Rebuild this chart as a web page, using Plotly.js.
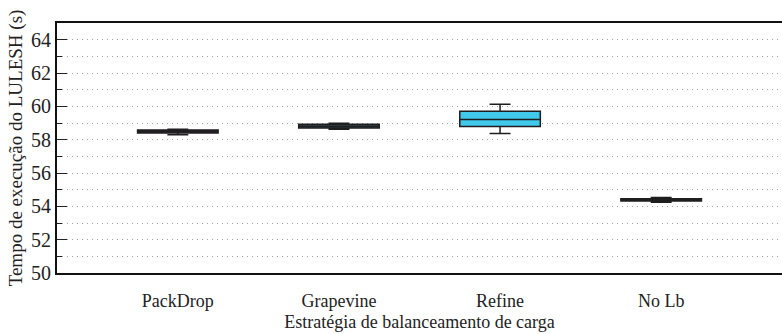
<!DOCTYPE html>
<html>
<head>
<meta charset="utf-8">
<script src="https://cdn.plot.ly/plotly-3.0.1.min.js"></script>
<style>html,body{margin:0;padding:0;background:#fff;}#chart{width:782px;height:334px;}</style>
</head>
<body>
<div id="chart"></div>
<script>
const categories = ["PackDrop", "Grapevine", "Refine", "No Lb"];
const lowerWhisker = [58.30, 58.63, 58.37, 54.24];
const q1Values     = [58.40, 58.70, 58.79, 54.32];
const medianValues = [58.50, 58.80, 59.21, 54.40];
const q3Values     = [58.58, 58.92, 59.71, 54.46];
const upperWhisker = [58.62, 58.99, 60.13, 54.53];
const fillColors = ["#3d1c3e", "#35525e", "#41c9eb", "#151515"];

const serif = "Liberation Serif";

const traces = categories.map((c, i) => ({
  type: "box",
  x: [c],
  q1: [q1Values[i]],
  median: [medianValues[i]],
  q3: [q3Values[i]],
  lowerfence: [lowerWhisker[i]],
  upperfence: [upperWhisker[i]],
  fillcolor: fillColors[i],
  line: {color: "#1e1e1e", width: 1.5},
  width: 0.5,
  whiskerwidth: 0.26,
  showlegend: false,
  hoverinfo: "skip"
}));

const layout = {
  width: 782, height: 334,
  margin: {l: 57, r: 0, t: 23, b: 61},
  paper_bgcolor: "#fff", plot_bgcolor: "#fff",
  font: {family: serif, color: "#222", size: 18},
  boxmode: "overlay",
  xaxis: {
    type: "category",
    categoryorder: "array", categoryarray: categories,
    range: [-0.75, 3.75],
    showline: true, linecolor: "#111", linewidth: 2, mirror: true,
    ticks: "", showgrid: false, zeroline: false,
    ticklabelstandoff: 10,
    tickfont: {family: serif, size: 18, color: "#222"},
    title: {text: "Estratégia de balanceamento de carga", font: {family: serif, size: 18, color: "#222"}, standoff: 6}
  },
  yaxis: {
    range: [50, 65], dtick: 2, tick0: 50,
    showline: true, linecolor: "#111", linewidth: 2, mirror: false,
    ticks: "inside", ticklen: 10, tickwidth: 1, tickcolor: "#222",
    showgrid: true, gridcolor: "#a0a0a0", griddash: "1px,4px", gridwidth: 1,
    zeroline: false,
    tickfont: {family: serif, size: 20, color: "#222"},
    minor: {dtick: 1, ticks: "inside", ticklen: 5, tickcolor: "#222", showgrid: true, gridcolor: "#a0a0a0", griddash: "1px,4px", gridwidth: 1},
    title: {text: "Tempo de execução do LULESH (s)", font: {family: serif, size: 19, color: "#222"}, standoff: 3}
  }
};

Plotly.newPlot("chart", traces, layout, {staticPlot: true});
</script>
</body>
</html>
